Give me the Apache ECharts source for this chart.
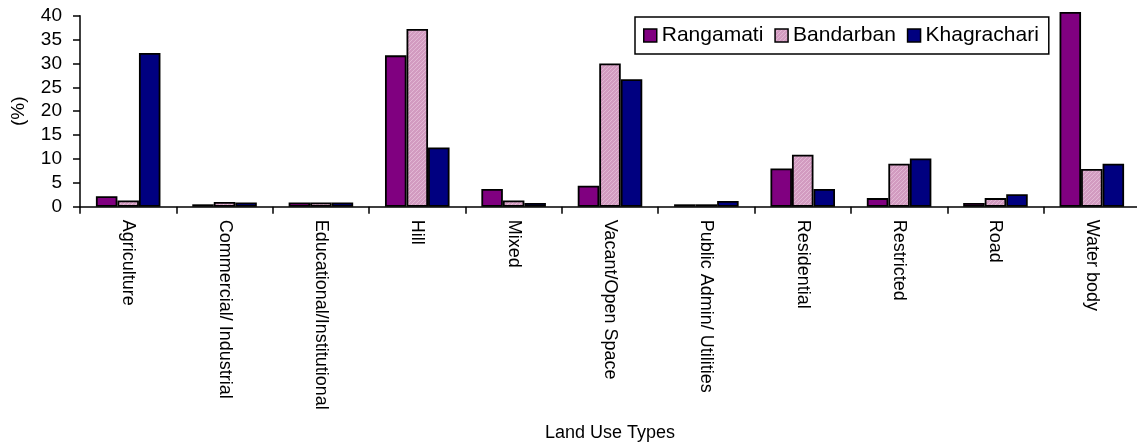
<!DOCTYPE html>
<html>
<head>
<meta charset="utf-8">
<script src="https://cdn.jsdelivr.net/npm/echarts@6/dist/echarts.min.js"></script>
<style>
html,body{margin:0;padding:0;background:#fff;}
#c{width:1137px;height:443px;}
</style>
</head>
<body>
<div id="c"></div>
<script>
const categories = ['Agriculture','Commercial/ Industrial','Educational/Institutional','Hill','Mixed','Vacant/Open Space','Public Admin/ Utilities','Residential','Restricted','Road','Water body'];
const rangamati   = [2.2, 0.5, 0.9, 31.7, 3.7, 4.4, 0.5, 8.0, 1.8, 0.8, 40.8];
const bandarban   = [1.3, 1.0, 0.9, 37.2, 1.3, 30.0, 0.5, 10.9, 9.0, 1.8, 7.9];
const khagrachari = [32.2, 0.9, 0.9, 12.4, 0.8, 26.7, 1.2, 3.7, 10.1, 2.6, 9.0];
const yTicks = [0,5,10,15,20,25,30,35,40];

function pinkPattern(){
  const cv = document.createElement('canvas');
  cv.width = 4; cv.height = 4;
  const ctx = cv.getContext('2d');
  ctx.fillStyle = '#d29bc0';
  ctx.fillRect(0,0,4,4);
  ctx.fillStyle = '#e2b8d4';
  for(let i=0;i<4;i++){ ctx.fillRect(i,(3-i),1,1); }
  return cv;
}

const chart = echarts.init(document.getElementById('c'), null, {renderer:'canvas'});
const font = 'Liberation Sans, Arial, sans-serif';
const border = {borderColor:'#000', borderWidth:1.8};
chart.setOption({
  animation:false,
  grid:{left:80, right:-3, top:15.7, bottom:236.3, containLabel:false, outerBoundsMode:'none'},
  legend:{
    left:635, top:17, orient:'horizontal',
    itemWidth:13, itemHeight:13, itemGap:11,
    padding:[8,10,8,8],
    borderColor:'#000', borderWidth:1.5, backgroundColor:'#fff',
    textStyle:{fontFamily:font, fontSize:21, color:'#000'},
    data:['Rangamati','Bandarban','Khagrachari'],
    icon:'rect',
    itemStyle:{borderColor:'#000', borderWidth:1.5}
  },
  xAxis:{
    type:'category', data:categories,
    name:'Land Use Types', nameLocation:'middle', nameGap:217,
    nameTextStyle:{fontFamily:font, fontSize:18, color:'#000'},
    axisLine:{lineStyle:{color:'#000', width:1.5}},
    axisTick:{show:true, length:7, lineStyle:{color:'#000', width:1.5}},
    axisLabel:{rotate:-90, margin:13, fontFamily:font, fontSize:18, color:'#000', interval:0},
    splitLine:{show:false}
  },
  yAxis:{
    type:'value', min:0, max:40, interval:5,
    name:'(%)', nameLocation:'middle', nameGap:52,
    nameTextStyle:{fontFamily:font, fontSize:19, color:'#000'},
    axisLine:{show:true, lineStyle:{color:'#000', width:1.5}},
    axisTick:{show:true, length:7, lineStyle:{color:'#000', width:1.5}},
    axisLabel:{margin:18, fontFamily:font, fontSize:19, color:'#000',
      formatter:function(v){ return yTicks.indexOf(v) >= 0 ? String(v) : ''; }},
    splitLine:{show:false}
  },
  series:[
    {name:'Rangamati', type:'bar', data:rangamati, clip:false, barGap:'0%', barCategoryGap:'33%',
     itemStyle:Object.assign({color:'#800080'}, border)},
    {name:'Bandarban', type:'bar', data:bandarban, clip:false, barGap:'0%', barCategoryGap:'33%',
     itemStyle:Object.assign({color:{image:pinkPattern(), repeat:'repeat'}}, border)},
    {name:'Khagrachari', type:'bar', data:khagrachari, clip:false, barGap:'0%', barCategoryGap:'33%',
     itemStyle:Object.assign({color:'#000080'}, border)}
  ]
});
</script>
</body>
</html>
